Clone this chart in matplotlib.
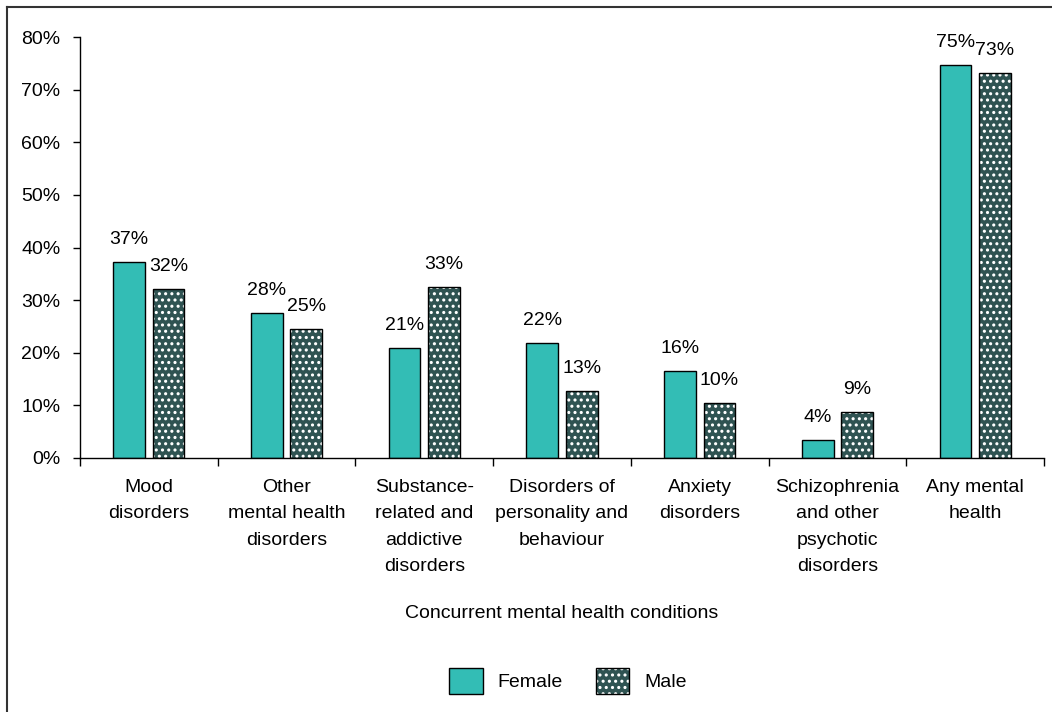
import numpy as np
import matplotlib
matplotlib.use("Agg")
import matplotlib.pyplot as plt
import matplotlib.hatch as mhatch
from matplotlib.patches import Patch
from matplotlib.lines import Line2D
from matplotlib.legend_handler import HandlerTuple


# bigger, denser white dots for the '.' hatch
class _Dots(mhatch.Circles):
    size = 0.14
    filled = True

    def __init__(self, hatch, density):
        self.num_rows = hatch.count(".") * 8
        super().__init__(hatch, density)


mhatch._hatch_types = [(_Dots if t is mhatch.SmallFilledCircles else t)
                       for t in mhatch._hatch_types]

plt.rcParams["font.family"] = ["Liberation Sans", "DejaVu Sans"]

categories = [
    "Mood\ndisorders",
    "Other\nmental health\ndisorders",
    "Substance-\nrelated and\naddictive\ndisorders",
    "Disorders of\npersonality and\nbehaviour",
    "Anxiety\ndisorders",
    "Schizophrenia\nand other\npsychotic\ndisorders",
    "Any mental\nhealth",
]
female = [37.3, 27.6, 20.9, 21.9, 16.5, 3.4, 74.7]
male = [32.1, 24.5, 32.5, 12.7, 10.5, 8.7, 73.2]
female_labels = ["37%", "28%", "21%", "22%", "16%", "4%", "75%"]
male_labels = ["32%", "25%", "33%", "13%", "10%", "9%", "73%"]
yticks = [0, 10, 20, 30, 40, 50, 60, 70, 80]

teal = "#33bdb5"
slate = "#2f5352"
fs = 14

fig = plt.figure(figsize=(10.52, 7.12), dpi=100)
ax = fig.add_axes([80 / 1052, 1 - 458 / 712, (1044 - 80) / 1052, (458 - 37) / 712])

x = np.arange(len(categories))
w = 0.23
off = 0.143

ax.bar(x - off, female, w, color=teal, edgecolor="black", linewidth=1.0, zorder=2)
ax.bar(x + off, male, w, color=slate, edgecolor="white", linewidth=0,
       hatch="..", zorder=2)
ax.bar(x + off, male, w, color="none", edgecolor="black", linewidth=1.0, zorder=3)

for xi, v, t in zip(x - off, female, female_labels):
    ax.annotate(t, (xi, v), xytext=(0, 10), textcoords="offset points",
                ha="center", va="bottom", fontsize=fs)
for xi, v, t in zip(x + off, male, male_labels):
    ax.annotate(t, (xi, v), xytext=(0, 10), textcoords="offset points",
                ha="center", va="bottom", fontsize=fs)

ax.set_xlim(-0.5, len(categories) - 0.5)
ax.set_ylim(0, 80)
ax.set_yticks(yticks)
ax.set_yticklabels([f"{v}%" for v in yticks], fontsize=fs)
ax.set_xticks(x)
ax.set_xticklabels(categories, fontsize=fs, linespacing=1.72)
ax.set_xticks(np.arange(len(categories) + 1) - 0.5, minor=True)
ax.tick_params(axis="x", which="major", length=0, pad=15)
ax.tick_params(axis="x", which="minor", length=6, direction="out", width=1)
ax.tick_params(axis="y", length=5, width=1, pad=9)
for s in ["top", "right"]:
    ax.spines[s].set_visible(False)
for s in ["left", "bottom"]:
    ax.spines[s].set_linewidth(1)

fig.text(562 / 1052, 1 - 614 / 712, "Concurrent mental health conditions",
         ha="center", va="center", fontsize=fs)

h_female = Patch(facecolor=teal, edgecolor="black", linewidth=1.0)
h_male = (Patch(facecolor=slate, edgecolor="white", linewidth=0, hatch=".."),
          Patch(facecolor="none", edgecolor="black", linewidth=1.0))
fig.legend([h_female, h_male], ["Female", "Male"],
           handler_map={tuple: HandlerTuple(ndivide=1, pad=0)},
           loc="center", bbox_to_anchor=(568 / 1052, 1 - 681 / 712),
           ncol=2, frameon=False, fontsize=fs, handlelength=1.7,
           handleheight=1.7, handletextpad=0.75, columnspacing=1.75)

# outer frame (left and top edges visible)
fig.add_artist(Line2D([7 / 1052, 7 / 1052], [0, 1 - 7 / 712],
                      transform=fig.transFigure, color="#333333", lw=1.5))
fig.add_artist(Line2D([7 / 1052, 1], [1 - 7 / 712, 1 - 7 / 712],
                      transform=fig.transFigure, color="#333333", lw=1.5))

fig.savefig("out.png", dpi=100)
